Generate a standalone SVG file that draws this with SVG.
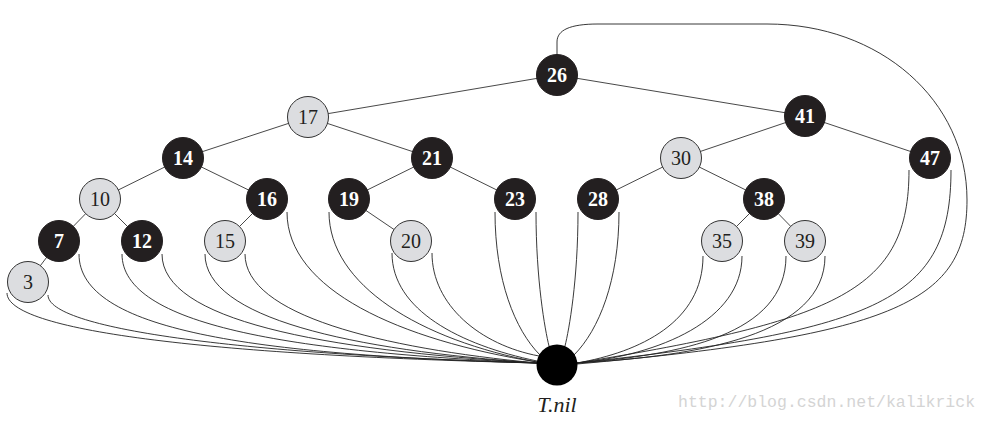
<svg xmlns="http://www.w3.org/2000/svg" width="990" height="421" viewBox="0 0 990 421">
  <style>
    .edge { stroke: #333; stroke-width: 0.9; fill: none; }
    .nilc { stroke: #222; stroke-width: 0.9; fill: none; }
    .blk circle { fill: #231f20; stroke: #231f20; stroke-width: 1; }
    .red circle { fill: #dcdde0; stroke: #333; stroke-width: 1; }
    .blk text { fill: #fff; font-family: "Liberation Serif", serif; font-weight: bold; font-size: 20px; text-anchor: middle; }
    .red text { fill: #231f20; font-family: "Liberation Serif", serif; font-size: 20px; text-anchor: middle; }
    .nillabel { fill: #231f20; font-family: "Liberation Serif", serif; font-style: italic; font-size: 22px; text-anchor: middle; }
    .mark { fill: #d4d4d4; font-family: "Liberation Mono", monospace; font-size: 16.5px; }
  </style>

  <!-- tree edges and sentinel links -->
  <g id="connectors">
    <line class="edge" x1="557" y1="75" x2="308" y2="117"/>
    <line class="edge" x1="557" y1="75" x2="805" y2="116"/>
    <line class="edge" x1="308" y1="117" x2="183" y2="158"/>
    <line class="edge" x1="308" y1="117" x2="432" y2="158"/>
    <line class="edge" x1="183" y1="158" x2="100" y2="199"/>
    <line class="edge" x1="183" y1="158" x2="267" y2="199"/>
    <line class="edge" x1="100" y1="199" x2="59" y2="241"/>
    <line class="edge" x1="100" y1="199" x2="142" y2="241"/>
    <line class="edge" x1="59" y1="241" x2="28" y2="282"/>
    <line class="edge" x1="267" y1="199" x2="225" y2="241"/>
    <line class="edge" x1="432" y1="158" x2="349" y2="199"/>
    <line class="edge" x1="432" y1="158" x2="515" y2="199"/>
    <line class="edge" x1="349" y1="199" x2="411" y2="241"/>
    <line class="edge" x1="805" y1="116" x2="681" y2="158"/>
    <line class="edge" x1="805" y1="116" x2="930" y2="158"/>
    <line class="edge" x1="681" y1="158" x2="598" y2="199"/>
    <line class="edge" x1="681" y1="158" x2="764" y2="199"/>
    <line class="edge" x1="764" y1="199" x2="722" y2="241"/>
    <line class="edge" x1="764" y1="199" x2="805" y2="241"/>

    <!-- nil children -->
    <path class="nilc" d="M7,293 C7,330 200,355 537,363"/>
    <path class="nilc" d="M48,295 C48,328 230,354 537,363"/>
    <path class="nilc" d="M79,254 C79,330 250,355 537,363"/>
    <path class="nilc" d="M122,254 C122,325 290,352 537,363"/>
    <path class="nilc" d="M162,254 C162,320 320,350 537,363"/>
    <path class="nilc" d="M205,254 C205,318 350,350 537,363"/>
    <path class="nilc" d="M245,254 C245,315 380,348 537,363"/>
    <path class="nilc" d="M287,212 C287,290 400,340 537,362"/>
    <path class="nilc" d="M329,212 C329,285 420,340 537,362"/>
    <path class="nilc" d="M392,253 C392,310 460,345 537,361"/>
    <path class="nilc" d="M432,253 C432,305 480,345 539,356"/>
    <path class="nilc" d="M495,212 C495,280 515,330 540,355"/>
    <path class="nilc" d="M536,212 C536,280 545,330 549,346"/>
    <path class="nilc" d="M578,212 C578,280 569,330 565,346"/>
    <path class="nilc" d="M619,212 C619,280 599,330 574,355"/>
    <path class="nilc" d="M703,256 C703,322 640,352 577,363"/>
    <path class="nilc" d="M742,256 C742,320 660,355 577,363"/>
    <path class="nilc" d="M786,256 C786,335 680,355 577,363"/>
    <path class="nilc" d="M825,256 C825,335 700,356 577,363"/>
    <path class="nilc" d="M909,170 C909,290 840,320 577,363"/>
    <path class="nilc" d="M951,170 C951,300 880,330 577,363"/>
    <!-- root's parent pointer -->
    <path class="nilc" d="M557,55 L557,42 C557,30 570,24 598,24 L767,24 C880,24 967,100 967,200 C967,300 900,335 577,364"/>
  </g>

  <g id="n26" class="blk"><circle cx="557" cy="75" r="20.5"/><text x="557" y="82">26</text></g>
  <g id="n17" class="red"><circle cx="308" cy="117" r="20.5"/><text x="308" y="124">17</text></g>
  <g id="n41" class="blk"><circle cx="805" cy="116" r="20.5"/><text x="805" y="123">41</text></g>
  <g id="n14" class="blk"><circle cx="183" cy="158" r="20.5"/><text x="183" y="165">14</text></g>
  <g id="n21" class="blk"><circle cx="432" cy="158" r="20.5"/><text x="432" y="165">21</text></g>
  <g id="n30" class="red"><circle cx="681" cy="158" r="20.5"/><text x="681" y="165">30</text></g>
  <g id="n47" class="blk"><circle cx="930" cy="158" r="20.5"/><text x="930" y="165">47</text></g>
  <g id="n10" class="red"><circle cx="100" cy="199" r="20.5"/><text x="100" y="206">10</text></g>
  <g id="n16" class="blk"><circle cx="267" cy="199" r="20.5"/><text x="267" y="206">16</text></g>
  <g id="n19" class="blk"><circle cx="349" cy="199" r="20.5"/><text x="349" y="206">19</text></g>
  <g id="n23" class="blk"><circle cx="515" cy="199" r="20.5"/><text x="515" y="206">23</text></g>
  <g id="n28" class="blk"><circle cx="598" cy="199" r="20.5"/><text x="598" y="206">28</text></g>
  <g id="n38" class="blk"><circle cx="764" cy="199" r="20.5"/><text x="764" y="206">38</text></g>
  <g id="n7" class="blk"><circle cx="59" cy="241" r="20.5"/><text x="59" y="248">7</text></g>
  <g id="n12" class="blk"><circle cx="142" cy="241" r="20.5"/><text x="142" y="248">12</text></g>
  <g id="n15" class="red"><circle cx="225" cy="241" r="20.5"/><text x="225" y="248">15</text></g>
  <g id="n20" class="red"><circle cx="411" cy="241" r="20.5"/><text x="411" y="248">20</text></g>
  <g id="n35" class="red"><circle cx="722" cy="241" r="20.5"/><text x="722" y="248">35</text></g>
  <g id="n39" class="red"><circle cx="805" cy="241" r="20.5"/><text x="805" y="248">39</text></g>
  <g id="n3" class="red"><circle cx="28" cy="282" r="20.5"/><text x="28" y="289">3</text></g>

  <g id="tnil">
    <circle cx="557" cy="365" r="20.5" fill="#000"/>
    <text class="nillabel" x="557" y="412">T.nil</text>
  </g>

  <text class="mark" x="678" y="407">http://blog.csdn.net/kalikrick</text>
</svg>
